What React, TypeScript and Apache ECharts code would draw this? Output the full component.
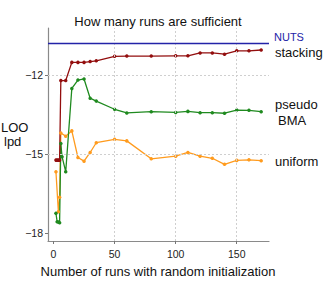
import React, { useEffect, useRef } from "react";
import * as echarts from "echarts";

const stackX = [2, 3, 4, 5, 6, 10, 15, 20, 25, 30, 35, 50, 60, 80, 100, 110, 120, 130, 140, 150, 160, 170];
const stackY = [-15.23, -15.23, -15.23, -15.23, -12.21, -12.21, -11.52, -11.52, -11.52, -11.49, -11.46, -11.29, -11.28, -11.28, -11.27, -11.27, -11.16, -11.16, -11.21, -11.08, -11.08, -11.05];

const bmaX = [2, 3, 4, 5, 6, 7, 10, 15, 20, 25, 30, 35, 50, 60, 80, 100, 110, 120, 130, 140, 150, 160, 170];
const bmaY = [-17.25, -17.57, -17.58, -17.61, -14.6, -15.1, -15.67, -12.51, -12.19, -12.15, -12.88, -12.99, -13.3, -13.44, -13.39, -13.42, -13.38, -13.43, -13.43, -13.45, -13.33, -13.34, -13.39];

const unifX = [2, 4, 5, 6, 10, 15, 20, 25, 30, 35, 50, 60, 80, 100, 110, 120, 130, 140, 150, 160, 170];
const unifY = [-15.67, -17.19, -16.64, -14.2, -14.32, -14.12, -15.13, -15.27, -14.94, -14.57, -14.44, -14.5, -15.18, -15.08, -14.94, -15.08, -15.16, -15.39, -15.24, -15.22, -15.25];

const nutsValue = -10.81;
const xTicks = [0, 50, 100, 150];
const yTicks = [-18, -15, -12];
const xGrid = [50, 100, 150];
const yGrid = [-12, -15];

const FONT = "Liberation Sans, Arial, sans-serif";

const zip = (xs: number[], ys: number[]) => xs.map((x, i) => [x, ys[i]]);

export default function App() {
  const ref = useRef<HTMLDivElement>(null);
  useEffect(() => {
    if (!ref.current) return;
    const chart = echarts.init(ref.current, null, { renderer: "svg" });
    const lineSeries = (name: string, data: number[][], color: string) => ({
      name,
      type: "line",
      data,
      symbol: "circle",
      symbolSize: 3.5,
      itemStyle: { color },
      lineStyle: { color, width: 1.3 },
      silent: true,
    });
    chart.setOption({
      animation: false,
      backgroundColor: "#ffffff",
      grid: { left: 48, right: 57, top: 28, bottom: 48, containLabel: false, outerBoundsMode: "none" },
      xAxis: {
        type: "value",
        min: -4.5,
        max: 176.4,
        axisLine: { show: true, onZero: false, lineStyle: { color: "#8a8a8a", width: 1.2 } },
        axisTick: { show: true, customValues: xTicks, length: 3, lineStyle: { color: "#777" } },
        axisLabel: { customValues: xTicks, color: "#222", fontSize: 10.5, fontFamily: FONT, margin: 7 },
        splitLine: { show: false },
      },
      yAxis: {
        type: "value",
        min: -18.3,
        max: -10.215,
        axisLine: { show: true, onZero: false, lineStyle: { color: "#8a8a8a", width: 1.2 } },
        axisTick: { show: true, customValues: yTicks, length: 3, lineStyle: { color: "#777" } },
        axisLabel: {
          customValues: yTicks,
          color: "#222",
          fontSize: 10.5,
          fontFamily: FONT,
          margin: 5,
          formatter: (v: number) => String(v).replace("-", "\u2212"),
        },
        splitLine: { show: false },
      },
      series: [
        {
          type: "line",
          data: [],
          silent: true,
          markLine: {
            silent: true,
            symbol: "none",
            label: { show: false },
            lineStyle: { color: "#cfcfcf", type: [2, 2], width: 1 },
            data: [
              ...xGrid.map((v) => ({ xAxis: v })),
              ...yGrid.map((v) => ({ yAxis: v })),
            ],
          },
        },
        {
          type: "line",
          data: [],
          silent: true,
          markLine: {
            silent: true,
            symbol: "none",
            label: { show: false },
            lineStyle: { color: "#2323a8", type: "solid", width: 1.4 },
            data: [{ yAxis: nutsValue }],
          },
        },
        lineSeries("uniform", zip(unifX, unifY), "#ff9b1e"),
        lineSeries("pseudo BMA", zip(bmaX, bmaY), "#1f8a1f"),
        lineSeries("stacking", zip(stackX, stackY), "#930e0e"),
      ],
      graphic: [
        { type: "text", x: 158, y: 21, style: { text: "How many runs are sufficient", font: `13px ${FONT}`, fill: "#111", textAlign: "center", textVerticalAlign: "middle" } },
        { type: "text", x: 158, y: 271, style: { text: "Number of runs with random initialization", font: `13px ${FONT}`, fill: "#111", textAlign: "center", textVerticalAlign: "middle" } },
        { type: "text", x: 1, y: 127, style: { text: "LOO", font: `13px ${FONT}`, fill: "#111", textAlign: "left", textVerticalAlign: "middle" } },
        { type: "text", x: 4, y: 141, style: { text: "lpd", font: `13px ${FONT}`, fill: "#111", textAlign: "left", textVerticalAlign: "middle" } },
        { type: "text", x: 274, y: 37, style: { text: "NUTS", font: `11px ${FONT}`, fill: "#2323a8", textAlign: "left", textVerticalAlign: "middle" } },
        { type: "text", x: 275, y: 52, style: { text: "stacking", font: `13px ${FONT}`, fill: "#111", textAlign: "left", textVerticalAlign: "middle" } },
        { type: "text", x: 275, y: 104, style: { text: "pseudo", font: `13px ${FONT}`, fill: "#111", textAlign: "left", textVerticalAlign: "middle" } },
        { type: "text", x: 278, y: 120, style: { text: "BMA", font: `13px ${FONT}`, fill: "#111", textAlign: "left", textVerticalAlign: "middle" } },
        { type: "text", x: 275, y: 161, style: { text: "uniform", font: `13px ${FONT}`, fill: "#111", textAlign: "left", textVerticalAlign: "middle" } },
      ],
    });
    return () => chart.dispose();
  }, []);
  return <div ref={ref} style={{ position: "fixed", left: 0, top: 0, width: 326, height: 289 }} />;
}
